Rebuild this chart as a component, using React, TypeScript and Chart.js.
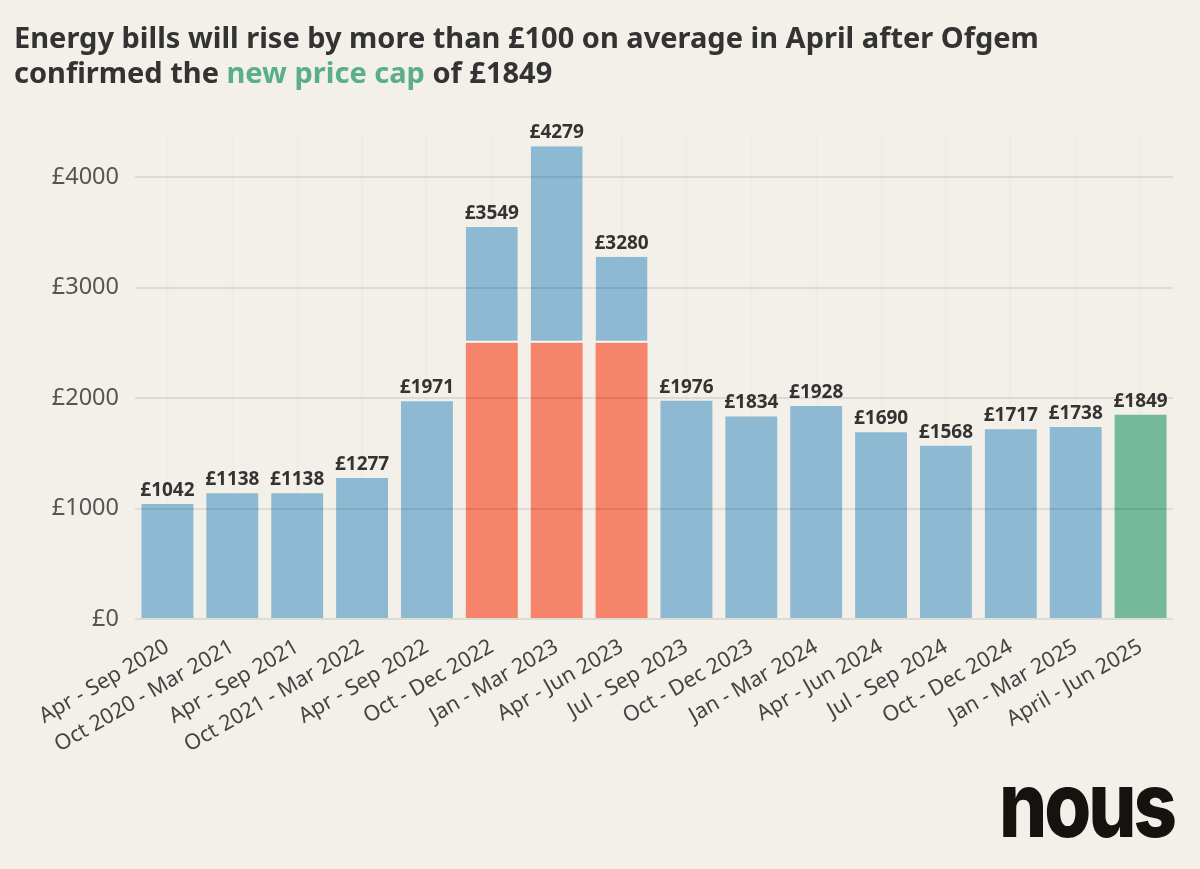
import React, { useEffect, useRef } from "react";
import { Chart, registerables } from "chart.js";

Chart.register(...registerables);

const categories = [
  "Apr - Sep 2020",
  "Oct 2020 - Mar 2021",
  "Apr - Sep 2021",
  "Oct 2021 - Mar 2022",
  "Apr - Sep 2022",
  "Oct - Dec 2022",
  "Jan - Mar 2023",
  "Apr - Jun 2023",
  "Jul - Sep 2023",
  "Oct - Dec 2023",
  "Jan - Mar 2024",
  "Apr - Jun 2024",
  "Jul - Sep 2024",
  "Oct - Dec 2024",
  "Jan - Mar 2025",
  "April - Jun 2025",
];

const priceCap = [1042, 1138, 1138, 1277, 1971, 3549, 4279, 3280, 1976, 1834, 1928, 1690, 1568, 1717, 1738, 1849];

// Energy Price Guarantee level paid (null where it did not apply)
const guarantee: (number | null)[] = [null, null, null, null, null, 2500, 2500, 2500, null, null, null, null, null, null, null, null];

const yTicks = [0, 1000, 2000, 3000, 4000];

const BLUE = "#8dbad2";
const RED = "#f5846b";
const GREEN = "#74b99c";
const BG = "#f3efe9";
const FONT = "'Noto Sans', sans-serif";

export default function App() {
  const ref = useRef<HTMLCanvasElement | null>(null);

  useEffect(() => {
    document.body.style.margin = "0";
    const canvas = ref.current;
    if (!canvas) return;
    const last = categories.length - 1;
    const base = priceCap.map((v, i) => (guarantee[i] != null ? (guarantee[i] as number) : v));
    const excess = priceCap.map((v, i) => v - base[i]);
    const baseColors = priceCap.map((_, i) => (i === last ? GREEN : guarantee[i] != null ? RED : BLUE));

    const labelPlugin = {
      id: "totals",
      afterDatasetsDraw(chart: any) {
        const ctx = chart.ctx;
        const meta = chart.getDatasetMeta(0);
        const ys = chart.scales.y;
        ctx.save();
        ctx.font = `bold 19px ${FONT}`;
        ctx.fillStyle = "#333333";
        ctx.textAlign = "center";
        ctx.textBaseline = "bottom";
        meta.data.forEach((el: any, i: number) => {
          const y = ys.getPixelForValue(priceCap[i]);
          ctx.fillText(`£${priceCap[i]}`, el.x, y - 4);
        });
        ctx.restore();
      },
    };

    const chart = new Chart(canvas, {
      type: "bar",
      data: {
        labels: categories,
        datasets: [
          {
            data: base,
            backgroundColor: baseColors,
            borderWidth: 0,
            barPercentage: 0.8,
            categoryPercentage: 1,
          },
          {
            data: excess,
            backgroundColor: BLUE,
            borderColor: "rgba(255,255,255,0.75)",
            borderWidth: { top: 0, bottom: 2, left: 0, right: 0 },
            borderSkipped: false,
            barPercentage: 0.8,
            categoryPercentage: 1,
          },
        ],
      },
      options: {
        animation: false,
        responsive: false,
        devicePixelRatio: 1,
        layout: { padding: { top: 133, left: 0, right: 27, bottom: 0 } },
        plugins: { legend: { display: false }, tooltip: { enabled: false } },
        scales: {
          x: {
            stacked: true,
            offset: true,
            grid: { offset: false, color: "rgba(0,0,0,0.012)", lineWidth: 3, drawTicks: false },
            border: { display: false },
            ticks: {
              autoSkip: false,
              maxRotation: 30,
              minRotation: 30,
              padding: 15,
              color: "#444444",
              font: { family: FONT, size: 21.5 },
            },
            afterFit(scale: any) {
              scale.height = 250;
            },
          },
          y: {
            stacked: true,
            min: 0,
            max: 4400,
            afterBuildTicks(scale: any) {
              scale.ticks = yTicks.map((v) => ({ value: v }));
            },
            grid: { color: "rgba(0,0,0,0.085)", lineWidth: 2, drawTicks: false, z: 1 },
            border: { display: false },
            ticks: {
              padding: 16,
              color: "#555555",
              font: { family: FONT, size: 23.5 },
              callback: (v: any) => `£${v}`,
            },
            afterFit(scale: any) {
              scale.width = 135;
            },
          },
        },
      },
      plugins: [labelPlugin],
    });
    return () => chart.destroy();
  }, []);

  return (
    <div style={{ position: "relative", width: 1200, height: 869, background: BG, overflow: "hidden" }}>
      <canvas ref={ref} width={1200} height={869} style={{ position: "absolute", left: 0, top: 0 }} />
      <div
        style={{
          position: "absolute",
          left: 14,
          top: 19,
          fontFamily: FONT,
          fontWeight: 700,
          fontSize: 29,
          lineHeight: "35px",
          color: "#333333",
          whiteSpace: "nowrap",
        }}
      >
        Energy bills will rise by more than £100 on average in April after Ofgem
        <br />
        confirmed the <span style={{ color: "#5aae8d" }}>new price cap</span> of £1849
      </div>
      <div
        style={{
          position: "absolute",
          left: 999,
          top: 755,
          fontFamily: "'Inter', sans-serif",
          fontWeight: 800,
          fontSize: 76,
          lineHeight: "80px",
          color: "#151210",
          letterSpacing: -3,
          transform: "scaleY(1.2)",
          transformOrigin: "0 0",
        }}
      >
        nous
      </div>
    </div>
  );
}
